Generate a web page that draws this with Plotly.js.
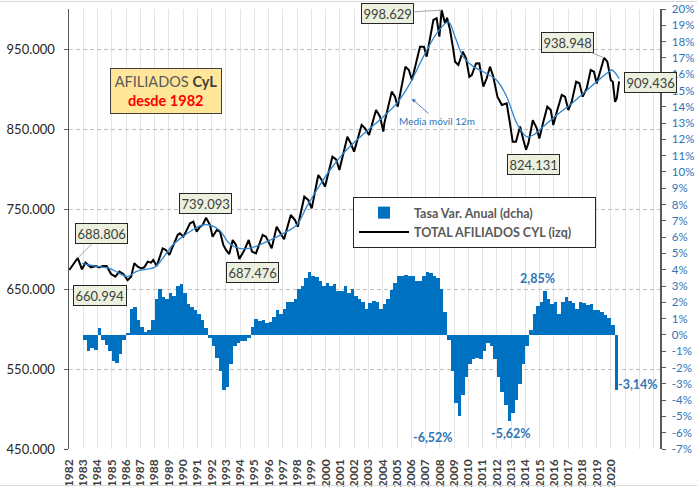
<!DOCTYPE html>
<html><head><meta charset="utf-8">
<script src="https://cdn.plot.ly/plotly-3.0.1.min.js"></script>
<style>html,body{margin:0;padding:0;background:#fff}#chart{width:697px;height:489px}</style>
</head><body><div id="chart"></div>
<script>
// ---- DATA ----
// Total afiliados CyL (monthly series, sampled at peaks/troughs), decimal years
const totalT = [1982.02,1982.61,1982.91,1983.15,1983.54,1983.89,1984.13,1984.36,1984.64,1984.95,
1985.25,1985.53,1985.81,1986.11,1986.35,1986.58,1986.82,1987.05,1987.28,1987.52,1987.75,1987.91,
1988.15,1988.33,1988.57,1988.80,1989.04,1989.22,1989.46,1989.62,1989.78,1990.02,1990.20,1990.49,
1990.72,1990.95,1991.19,1991.37,1991.61,1991.89,1992.07,1992.36,1992.59,1992.82,1993.01,1993.24,
1993.48,1993.71,1993.94,1994.30,1994.60,1994.83,1995.11,1995.30,1995.58,1995.81,1996.21,1996.56,
1996.84,1997.08,1997.55,1997.85,1998.04,1998.50,1998.78,1999.02,1999.48,1999.72,1999.95,2000.47,
2000.73,2000.96,2001.52,2001.76,2001.99,2002.52,2002.76,2003.04,2003.53,2003.81,2004.04,2004.11,
2004.63,2004.86,2005.05,2005.59,2005.83,2006.05,2006.61,2006.89,2007.08,2007.55,2007.78,2007.97,
2008.13,2008.36,2008.51,2008.72,2008.95,2009.07,2009.30,2009.61,2009.84,2010.07,2010.24,2010.54,
2010.77,2011.05,2011.29,2011.52,2011.75,2012.04,2012.35,2012.69,2012.92,2013.11,2013.34,2013.63,
2013.86,2014.05,2014.21,2014.52,2014.80,2014.98,2015.26,2015.54,2015.78,2015.96,2016.24,2016.55,
2016.78,2017.01,2017.25,2017.56,2017.79,2018.02,2018.30,2018.58,2018.81,2019.00,2019.24,2019.52,
2019.75,2019.99,2020.13,2020.29,2020.41,2020.57];
const totalV = [673750,688806,674600,682900,677100,678750,677100,678750,678750,668750,
665400,671700,668750,660994,665400,682100,677900,675800,677100,684200,682900,686250,
678750,688300,700800,698750,692500,700800,711250,717500,719600,715400,721700,732100,
734200,721700,727900,730000,739093,730000,715400,723750,721700,705000,698750,693750,
711250,705000,687476,698750,711250,696700,694600,705000,717500,715400,700800,727900,
719600,712100,742500,736250,727900,765400,761250,750800,792500,786250,777900,815400,
812100,798800,840400,832100,821700,855000,850800,842500,873750,865400,846700,857100,
896700,890400,877900,927900,923750,911250,952900,952900,940400,986250,988300,965400,
998629,982100,989000,973750,948750,934000,930000,946700,938400,915400,917500,932000,
932100,903000,913400,927900,915400,890400,880000,882000,857100,834000,834100,853000,
836250,824131,832100,861000,850800,838000,859100,877900,873750,855000,873750,892500,
890400,873750,884100,909000,907100,890400,900800,923750,921600,907000,921600,938948,
934100,911000,909100,884000,888400,909436];
// 12-month moving average
const maT = [1982.92,1983.43,1984.13,1984.83,1985.53,1986.11,1986.70,1987.40,1987.99,1988.57,
1989.27,1989.97,1990.67,1991.37,1991.84,1992.54,1993.24,1993.94,1994.64,1995.35,1996.10,1997.03,
1997.97,1998.67,1999.37,2000.30,2001.24,2002.17,2003.11,2004.04,2004.98,2005.91,2006.85,2007.79,
2008.60,2009.07,2009.65,2010.35,2011.05,2011.99,2012.69,2013.40,2014.10,2014.56,2015.26,2016.20,
2017.13,2018.07,2019.00,2019.71,2020.06,2020.57];
const maV = [682000,680000,677900,675800,669600,665400,671700,674600,677000,688300,
705000,715400,723750,730000,730000,723750,707000,700800,700800,705000,711000,719600,
730000,752900,773750,798750,819600,836000,850800,865400,882000,907000,940400,969600,
984000,965000,940000,928000,921600,911000,890400,857000,840400,842500,853000,867500,
880000,894600,909000,919600,923750,913000];
// Tasa de variación anual (%), quarterly from 1983 Q1
const rateStartYear = 1983;
const rateQ = [
-0.3,-1.0,-0.8,-0.9,  0.4,-0.3,-0.6,-1.0,  -1.6,-1.7,-1.2,-0.3,  0.1,1.6,1.7,0.9,
0.5,0.2,0.3,0.9,  2.2,2.8,2.3,2.2,  2.6,2.4,3.0,3.1,  2.6,1.9,1.7,1.5,
1.3,0.9,0.4,-0.2,  -0.7,-1.4,-2.2,-3.4,  -3.2,-1.8,-0.7,-0.5,  -0.4,-0.4,-0.2,0.5,
1.0,0.85,0.9,0.75,  0.8,1.1,1.5,1.3,  1.6,2.0,2.05,2.2,  2.8,3.0,3.5,3.85,
3.6,3.55,3.3,3.0,  3.2,3.0,3.1,2.7,  2.7,3.0,2.6,2.8,  2.4,2.2,2.0,1.6,
1.95,2.1,2.05,1.6,  1.9,2.2,2.75,3.2,  3.6,3.6,3.7,3.6,  3.6,3.3,3.3,3.6,
3.85,3.8,3.6,3.5,  2.8,1.4,-0.3,-2.2,  -4.2,-5.0,-3.7,-2.6,  -1.8,-1.45,-1.4,-1.5,
-1.0,-0.5,-0.7,-1.5,  -2.6,-3.5,-4.3,-5.3,  -4.8,-4.0,-3.0,-1.8,  -0.7,0.3,1.3,1.8,
2.0,2.7,2.2,1.9,  2.05,1.3,2.0,2.3,  2.1,1.95,1.6,2.0,  1.95,1.85,1.9,1.5,
1.5,1.4,1.2,1.05,  0.6,-3.4];
// Tick labels
const yearVals = [1982,1983,1984,1985,1986,1987,1988,1989,1990,1991,1992,1993,1994,1995,1996,1997,1998,1999,2000,2001,2002,2003,2004,2005,2006,2007,2008,2009,2010,2011,2012,2013,2014,2015,2016,2017,2018,2019,2020,2021,2022,2023];
const yearLabels = ['1982','1983','1984','1985','1986','1987','1988','1989','1990','1991','1992','1993','1994','1995','1996','1997','1998','1999','2000','2001','2002','2003','2004','2005','2006','2007','2008','2009','2010','2011','2012','2013','2014','2015','2016','2017','2018','2019','2020','','',''];
const leftTickVals = [450000,550000,650000,750000,850000,950000];
const leftTickText = ['450.000','550.000','650.000','750.000','850.000','950.000'];
const rightTickVals = [-7,-6,-5,-4,-3,-2,-1,0,1,2,3,4,5,6,7,8,9,10,11,12,13,14,15,16,17,18,19,20];
const rightTickText = ['-7%','-6%','-5%','-4%','-3%','-2%','-1%','0%','1%','2%','3%','4%','5%','6%','7%','8%','9%','10%','11%','12%','13%','14%','15%','16%','17%','18%','19%','20%'];
// Highlighted values
const boxT = [1982.61,1986.11,1991.61,1993.94,2008.13,2014.05,2019.52,2020.57];
const boxV = [688806,660994,739093,687476,998629,824131,938948,909436];
const pctT = [2015.38,2012.93,2009.26,2020.52];
const pctV = [2.85,-5.62,-6.52,-3.14];

// ---- CHART ----
const FONT = "Lato, 'Open Sans', sans-serif";
const fmtThousands = v => String(v).replace(/\B(?=(\d{3})+(?!\d))/g, '.');
const fmtPct = v => v.toFixed(2).replace('.', ',') + '%';
const PAD = '\u00a0\u00a0\u00a0\u00a0\u00a0\u00a0';

const barX = rateQ.map((_, i) => rateStartYear + i * 0.25 + 0.125);

const traces = [
  {type:'bar', x:barX, y:rateQ, yaxis:'y2', name:'Tasa Var. Anual (dcha)',
   width:0.25, marker:{color:'#0070C0', line:{width:0}}},
  {type:'scatter', mode:'lines', x:totalT, y:totalV, name:'TOTAL AFILIADOS CYL (izq)' + PAD,
   line:{color:'#000000', width:2}},
  {type:'scatter', mode:'lines', x:maT, y:maV, name:'Media móvil 12m', showlegend:false,
   line:{color:'#2E86D1', width:1.3, shape:'spline', smoothing:1}}
];

// label offsets (pixels; ay down-positive, dy up-positive), layout only
const boxOffsets = [
  {arrow:true, ax:24, ay:-24},
  {arrow:false, dx:-27.6, dy:-15.3},
  {arrow:false, dx:-0.5, dy:14.7},
  {arrow:false, dx:13.2, dy:-13},
  {arrow:true, ax:-54, ay:3.4},
  {arrow:false, dx:7, dy:-14.3},
  {arrow:true, ax:-37, ay:-15.3},
  {arrow:false, dx:31.5, dy:-1}
];
const pctOffsets = [{dx:-8,dy:9.7},{dx:1,dy:-6.6},{dx:-24.7,dy:4},{dx:20,dy:2}];

const annotations = [];
boxT.forEach((t, i) => {
  const o = boxOffsets[i];
  const a = {x:t, y:boxV[i], xref:'x', yref:'y', text:fmtThousands(boxV[i]),
    xanchor:'center', yanchor:'middle',
    font:{family:FONT, size:13, color:'#404040'}, bgcolor:'#EBF1DE',
    bordercolor:'#262626', borderwidth:1, borderpad:1.5};
  if (o.arrow) {
    Object.assign(a, {showarrow:true, ax:o.ax, ay:o.ay, arrowhead:0, arrowwidth:1, arrowcolor:'#A6A6A6', standoff:0});
  } else {
    Object.assign(a, {showarrow:false, xshift:o.dx, yshift:o.dy});
  }
  annotations.push(a);
});
pctT.forEach((t, i) => {
  annotations.push({x:t, y:pctV[i], xref:'x', yref:'y2', text:'<b>'+fmtPct(pctV[i])+'</b>',
    xanchor:'center', yanchor:'middle',
    showarrow:false, xshift:pctOffsets[i].dx, yshift:pctOffsets[i].dy,
    font:{family:FONT, size:12.5, color:'#2E75B6'}});
});
// title box
annotations.push({xref:'paper', yref:'paper', x:(166-69)/591, y:(449-91)/440,
  xanchor:'center', yanchor:'middle',
  text:"<span style='color:#595959'>AFILIADOS </span><b style='color:#404040'>CyL</b><br><b style='color:#FF0000'>desde 1982</b>",
  showarrow:false, align:'center', bgcolor:'#FFE699', bordercolor:'#404040', borderwidth:1,
  width:104, height:38, borderpad:3, font:{family:FONT, size:14.5, color:'#595959'}});
// moving average note
annotations.push({xref:'paper', yref:'paper', x:(411-69)/591, y:(449-98)/440,
  text:'Media móvil 12m', showarrow:true, ax:26, ay:23, arrowhead:2, arrowsize:0.9,
  arrowwidth:0.9, arrowcolor:'#4472C4', standoff:1,
  font:{family:FONT, size:10, color:'#2E75B6'}});

const layout = {
  width:697, height:489,
  margin:{l:69, r:37, t:9, b:40, pad:0},
  paper_bgcolor:'#ffffff', plot_bgcolor:'#ffffff',
  font:{family:FONT, color:'#404040'},
  bargap:0,
  xaxis:{range:[1982, 2023.44], tickmode:'array', tickvals:yearVals, ticktext:yearLabels,
    tickangle:-90, showgrid:true, gridcolor:'#E4E4E4', gridwidth:1, zeroline:false,
    showline:false, ticks:'', tickfont:{family:FONT, size:12, color:'#404040', weight:'bold'},
    ticklabelstandoff:7},
  yaxis:{range:[450000, 1000000], tickmode:'array', tickvals:leftTickVals, ticktext:leftTickText,
    showgrid:true, gridcolor:'#BFBFBF', griddash:'4px,3px', gridwidth:1, zeroline:false,
    showline:true, linecolor:'#595959', linewidth:1.5, ticks:'outside', ticklen:4,
    tickcolor:'#595959', tickfont:{family:FONT, size:13, color:'#262626'}, ticklabelstandoff:6},
  yaxis2:{range:[-7, 20], overlaying:'y', side:'right', tickmode:'array',
    tickvals:rightTickVals, ticktext:rightTickText, showgrid:false, zeroline:false,
    showline:true, linecolor:'#595959', linewidth:1.5, ticks:'outside', ticklen:4,
    tickcolor:'#595959', tickfont:{family:FONT, size:11.5, color:'#2E75B6'}, ticklabelstandoff:4},
  legend:{x:(353-69)/591, y:(449-197)/440, xanchor:'left', yanchor:'top',
    bgcolor:'#ffffff', bordercolor:'#262626', borderwidth:1, itemwidth:50,
    font:{family:FONT, size:12.5, color:'#595959', weight:'bold'}, traceorder:'normal'},
  annotations:annotations,
  shapes:[
    {type:'line', xref:'paper', yref:'paper', x0:-69/591, x1:628/591, y0:(449-1.5)/440, y1:(449-1.5)/440, line:{color:'#D9D9D9', width:1}},
    {type:'line', xref:'paper', yref:'paper', x0:-69/591, x1:628/591, y0:(449-485.5)/440, y1:(449-485.5)/440, line:{color:'#D9D9D9', width:1}}
  ],
  showlegend:true
};

Plotly.newPlot('chart', traces, layout, {displayModeBar:false, staticPlot:true});
</script>
</body></html>
